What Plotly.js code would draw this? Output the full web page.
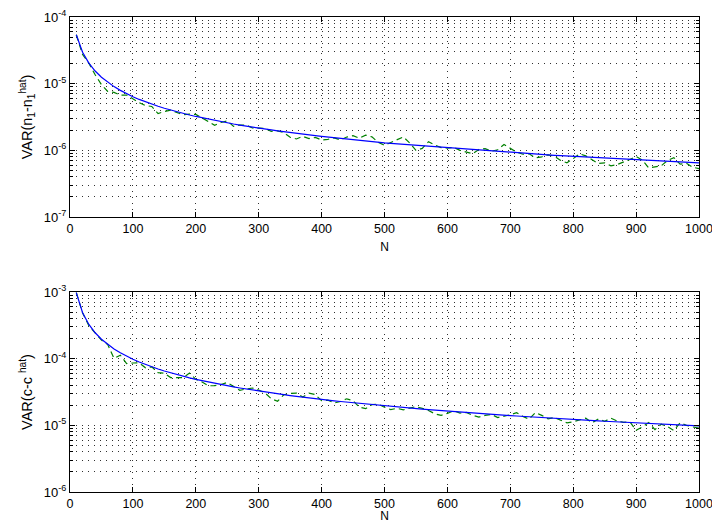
<!DOCTYPE html>
<html>
<head>
<meta charset="utf-8">
<script src="https://cdn.plot.ly/plotly-3.0.1.min.js"></script>
<style>html,body{margin:0;padding:0;background:#fff;}#chart{width:712px;height:523px;}</style>
</head>
<body>
<div id="chart"></div>
<script>
const N = [10,20,30,40,50,60,70,80,90,100,110,120,130,140,150,160,170,180,190,200,210,220,230,240,250,260,270,280,290,300,310,320,330,340,350,360,370,380,390,400,410,420,430,440,450,460,470,480,490,500,510,520,530,540,550,560,570,580,590,600,610,620,630,640,650,660,670,680,690,700,710,720,730,740,750,760,770,780,790,800,810,820,830,840,850,860,870,880,890,900,910,920,930,940,950,960,970,980,990,1000];

const varN1Theory = [5.417e-5,2.955e-5,2.031e-5,1.548e-5,1.25e-5,1.048e-5,9.03e-6,7.93e-6,7.07e-6,6.37e-6,5.80e-6,5.33e-6,4.92e-6,4.58e-6,4.28e-6,4.01e-6,3.78e-6,3.57e-6,3.39e-6,3.22e-6,3.07e-6,2.93e-6,2.80e-6,2.69e-6,2.58e-6,2.48e-6,2.39e-6,2.30e-6,2.23e-6,2.15e-6,2.08e-6,2.02e-6,1.96e-6,1.90e-6,1.85e-6,1.80e-6,1.75e-6,1.70e-6,1.66e-6,1.62e-6,1.58e-6,1.54e-6,1.50e-6,1.47e-6,1.44e-6,1.41e-6,1.38e-6,1.35e-6,1.32e-6,1.29e-6,1.27e-6,1.25e-6,1.22e-6,1.20e-6,1.18e-6,1.16e-6,1.14e-6,1.12e-6,1.10e-6,1.08e-6,1.06e-6,1.05e-6,1.03e-6,1.01e-6,9.97e-7,9.82e-7,9.67e-7,9.53e-7,9.39e-7,9.26e-7,9.13e-7,9.00e-7,8.88e-7,8.76e-7,8.64e-7,8.53e-7,8.42e-7,8.31e-7,8.21e-7,8.10e-7,8.00e-7,7.91e-7,7.81e-7,7.72e-7,7.63e-7,7.54e-7,7.45e-7,7.37e-7,7.29e-7,7.21e-7,7.13e-7,7.05e-7,6.97e-7,6.90e-7,6.83e-7,6.76e-7,6.69e-7,6.62e-7,6.55e-7,6.49e-7];

const varN1Sim = [5.42e-5,2.73e-5,2.03e-5,1.36e-5,9.69e-6,7.65e-6,7.40e-6,6.74e-6,6.75e-6,5.89e-6,5.19e-6,4.69e-6,4.55e-6,3.55e-6,3.83e-6,4.01e-6,3.67e-6,3.41e-6,3.49e-6,3.46e-6,3.07e-6,2.71e-6,2.38e-6,2.61e-6,2.77e-6,2.29e-6,2.39e-6,2.40e-6,2.16e-6,2.15e-6,2.14e-6,1.93e-6,1.96e-6,1.84e-6,1.57e-6,1.48e-6,1.62e-6,1.50e-6,1.56e-6,1.43e-6,1.46e-6,1.54e-6,1.43e-6,1.58e-6,1.66e-6,1.52e-6,1.69e-6,1.59e-6,1.32e-6,1.19e-6,1.31e-6,1.44e-6,1.59e-6,1.29e-6,1.00e-6,1.07e-6,1.35e-6,1.20e-6,1.10e-6,1.08e-6,1.11e-6,1.00e-6,9.53e-7,8.89e-7,1.03e-6,1.06e-6,9.67e-7,1.02e-6,1.22e-6,1.06e-6,9.40e-7,8.73e-7,8.88e-7,7.71e-7,7.99e-7,8.53e-7,8.17e-7,7.06e-7,6.49e-7,7.49e-7,8.84e-7,8.27e-7,7.22e-7,6.33e-7,6.49e-7,5.84e-7,6.11e-7,6.60e-7,7.29e-7,8.08e-7,7.13e-7,5.46e-7,5.61e-7,5.87e-7,7.03e-7,7.77e-7,6.19e-7,6.42e-7,5.57e-7,5.32e-7];

const varCTheory = [9.8e-4,4.9e-4,3.267e-4,2.45e-4,1.96e-4,1.633e-4,1.4e-4,1.225e-4,1.089e-4,9.8e-5,8.91e-5,8.17e-5,7.54e-5,7.0e-5,6.53e-5,6.13e-5,5.76e-5,5.44e-5,5.16e-5,4.9e-5,4.67e-5,4.45e-5,4.26e-5,4.08e-5,3.92e-5,3.77e-5,3.63e-5,3.5e-5,3.38e-5,3.27e-5,3.16e-5,3.06e-5,2.97e-5,2.88e-5,2.8e-5,2.72e-5,2.65e-5,2.58e-5,2.51e-5,2.45e-5,2.39e-5,2.33e-5,2.28e-5,2.23e-5,2.18e-5,2.13e-5,2.09e-5,2.04e-5,2.0e-5,1.96e-5,1.92e-5,1.88e-5,1.85e-5,1.81e-5,1.78e-5,1.75e-5,1.72e-5,1.69e-5,1.66e-5,1.63e-5,1.61e-5,1.58e-5,1.56e-5,1.53e-5,1.51e-5,1.48e-5,1.46e-5,1.44e-5,1.42e-5,1.4e-5,1.38e-5,1.36e-5,1.34e-5,1.32e-5,1.31e-5,1.29e-5,1.27e-5,1.26e-5,1.24e-5,1.225e-5,1.21e-5,1.195e-5,1.18e-5,1.167e-5,1.153e-5,1.14e-5,1.126e-5,1.114e-5,1.101e-5,1.089e-5,1.077e-5,1.065e-5,1.054e-5,1.043e-5,1.032e-5,1.021e-5,1.01e-5,1.0e-5,9.9e-6,9.8e-6];

const varCSim = [9.8e-4,4.9e-4,3.12e-4,2.45e-4,1.90e-4,1.63e-4,1.01e-4,1.13e-4,8.44e-5,8.62e-5,8.64e-5,7.31e-5,7.54e-5,6.16e-5,6.04e-5,5.21e-5,5.16e-5,5.20e-5,6.09e-5,4.9e-5,4.46e-5,3.92e-5,3.94e-5,4.08e-5,4.39e-5,3.88e-5,3.36e-5,3.5e-5,3.63e-5,3.37e-5,3.07e-5,2.51e-5,2.30e-5,2.88e-5,3.01e-5,3.05e-5,2.65e-5,3.04e-5,2.89e-5,2.34e-5,2.39e-5,2.16e-5,2.28e-5,2.50e-5,2.34e-5,1.87e-5,1.78e-5,2.04e-5,2.09e-5,1.87e-5,1.72e-5,1.80e-5,1.71e-5,1.81e-5,1.91e-5,1.80e-5,1.67e-5,1.49e-5,1.41e-5,1.51e-5,1.66e-5,1.53e-5,1.56e-5,1.42e-5,1.33e-5,1.41e-5,1.46e-5,1.31e-5,1.36e-5,1.44e-5,1.55e-5,1.36e-5,1.24e-5,1.56e-5,1.41e-5,1.25e-5,1.31e-5,1.20e-5,1.09e-5,1.13e-5,1.21e-5,1.28e-5,1.09e-5,1.25e-5,1.15e-5,1.28e-5,1.16e-5,1.11e-5,1.13e-5,8.44e-6,9.48e-6,1.10e-5,8.64e-6,1.04e-5,9.55e-6,8.37e-6,1.09e-5,1.0e-5,9.45e-6,9.07e-6];

const xTicks = [0,100,200,300,400,500,600,700,800,900,1000];
const xTickText = ['0','100','200','300','400','500','600','700','800','900','1000'];
const yTopTicks = [1e-7,1e-6,1e-5,1e-4];
const yTopText = ['10<sup>-7</sup>','10<sup>-6</sup>','10<sup>-5</sup>','10<sup>-4</sup>'];
const yBotTicks = [1e-6,1e-5,1e-4,1e-3];
const yBotText = ['10<sup>-6</sup>','10<sup>-5</sup>','10<sup>-4</sup>','10<sup>-3</sup>'];
const yTopMinor = [2e-7,3e-7,4e-7,5e-7,6e-7,7e-7,8e-7,9e-7,2e-6,3e-6,4e-6,5e-6,6e-6,7e-6,8e-6,9e-6,2e-5,3e-5,4e-5,5e-5,6e-5,7e-5,8e-5,9e-5];
const yBotMinor = [2e-6,3e-6,4e-6,5e-6,6e-6,7e-6,8e-6,9e-6,2e-5,3e-5,4e-5,5e-5,6e-5,7e-5,8e-5,9e-5,2e-4,3e-4,4e-4,5e-4,6e-4,7e-4,8e-4,9e-4];

const simColor = '#008000';
const thColor = '#0000ff';
const gridDash = '1px,5px';
const gridColor = '#303030';

const traces = [
  {x: N, y: varN1Sim, xaxis:'x', yaxis:'y', mode:'lines', line:{color:simColor, width:1.2, dash:'6px,4px'}, hoverinfo:'skip'},
  {x: N, y: varN1Theory, xaxis:'x', yaxis:'y', mode:'lines', line:{color:thColor, width:1.2}, hoverinfo:'skip'},
  {x: N, y: varCSim, xaxis:'x2', yaxis:'y2', mode:'lines', line:{color:simColor, width:1.2, dash:'6px,4px'}, hoverinfo:'skip'},
  {x: N, y: varCTheory, xaxis:'x2', yaxis:'y2', mode:'lines', line:{color:thColor, width:1.2}, hoverinfo:'skip'}
];

function xAxis(anchor){
  return {
    anchor: anchor, range:[0,1000], tickmode:'array', tickvals:xTicks, ticktext:xTickText,
    ticks:'inside', ticklen:5, tickcolor:'#000', showline:true, linecolor:'#000', linewidth:1, mirror:'ticks',
    showgrid:true, gridcolor:gridColor, gridwidth:1, griddash:gridDash, zeroline:false,
    ticklabeloverflow:'allow',
    title:{text:'N', font:{size:12}, standoff:7}, automargin:false, tickfont:{size:12.5}
  };
}
function yAxis(anchor, domain, range, tv, tt, minorTv, label){
  return {
    anchor: anchor, domain: domain, type:'log', range: range, tickmode:'array', tickvals:tv, ticktext:tt,
    ticks:'inside', ticklen:5, tickcolor:'#000', showline:true, linecolor:'#000', linewidth:1, mirror:'ticks',
    showgrid:true, gridcolor:gridColor, gridwidth:1, griddash:gridDash, zeroline:false,
    ticklabeloverflow:'allow',
    minor:{tickmode:'array', tickvals:minorTv, ticks:'inside', ticklen:3, tickcolor:'#000', showgrid:true, gridcolor:gridColor, gridwidth:1, griddash:gridDash},
    title:{text:label, font:{size:14.5}, standoff:7}, automargin:false, tickfont:{size:13}
  };
}

const layout = {
  width:712, height:523, showlegend:false,
  paper_bgcolor:'#fff', plot_bgcolor:'#fff',
  font:{family:'"Liberation Sans", Arial, sans-serif', size:13, color:'#000'},
  margin:{l:70, r:13, t:17, b:31},
  xaxis: xAxis('y'),
  yaxis: yAxis('x', [0.579, 1], [-7, -4], yTopTicks, yTopText, yTopMinor, 'VAR(n<sub>1</sub>-n<sub>1</sub><sup>hat</sup>)'),
  xaxis2: xAxis('y2'),
  yaxis2: yAxis('x2', [0, 0.421], [-6, -3], yBotTicks, yBotText, yBotMinor, 'VAR(c-c <sup>hat</sup>)')
};

Plotly.newPlot('chart', traces, layout, {staticPlot:true, displayModeBar:false});
</script>
</body>
</html>
